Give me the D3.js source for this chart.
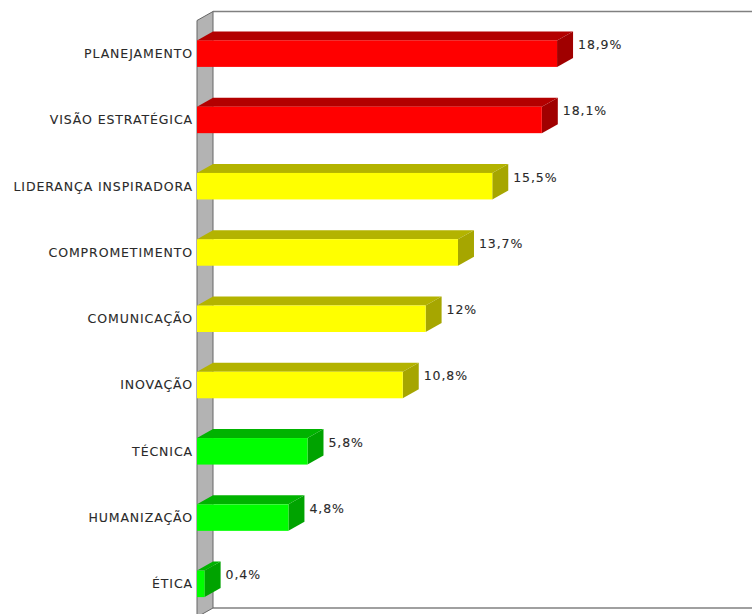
<!DOCTYPE html>
<html>
<head>
    <meta charset="UTF-8">
    <script type="text/javascript" src="https://cdn.jsdelivr.net/npm/d3@7"></script>
    <style>
        body { margin: 0; background: #fff; }
        text { font-family: "DejaVu Sans", sans-serif; fill: #2a2a2a; stroke: #2a2a2a; stroke-width: 0.1px;
               font-size: 12.5px; letter-spacing: 0.9px; }
    </style>
</head>
<body>
<script type="text/javascript">
    var categories = ["PLANEJAMENTO", "VISÃO ESTRATÉGICA", "LIDERANÇA INSPIRADORA", "COMPROMETIMENTO",
        "COMUNICAÇÃO", "INOVAÇÃO", "TÉCNICA", "HUMANIZAÇÃO", "ÉTICA"];
    var values = [18.9, 18.1, 15.5, 13.7, 12, 10.8, 5.8, 4.8, 0.4];
    var valueLabels = ["18,9%", "18,1%", "15,5%", "13,7%", "12%", "10,8%", "5,8%", "4,8%", "0,4%"];
    var levels = ["red", "red", "yellow", "yellow", "yellow", "yellow", "green", "green", "green"];

    var palette = {
        red: {front: "#ff0000", top: "#b30000", side: "#a00000"},
        yellow: {front: "#ffff00", top: "#b3b300", side: "#a6a600"},
        green: {front: "#00ff00", top: "#00b300", side: "#00a300"}
    };

    var width = 752, height = 614,
        x0 = 197, dx = 16, dy = -9;

    var svg = d3.select("body").append("svg")
        .attr("width", width)
        .attr("height", height);

    var x = d3.scaleLinear().domain([0, 30]).range([x0, x0 + 19.05 * 30]);
    var y = d3.scaleBand().domain(categories).range([20.5, 617]).paddingInner(0.6).paddingOuter(0.3);

    // back plane outline
    svg.append("path")
        .attr("d", "M" + (x0 + dx) + "," + (20.5 + dy) + "H" + width)
        .attr("stroke", "#808080").attr("stroke-width", 1.5).attr("fill", "none");
    svg.append("path")
        .attr("d", "M" + (x0 + dx) + "," + (617 + dy) + "H" + width)
        .attr("stroke", "#808080").attr("stroke-width", 1.5).attr("fill", "none");

    // left wall
    svg.append("path")
        .attr("d", "M" + x0 + "," + 20.5 + "L" + (x0 + dx) + "," + (20.5 + dy) +
            "L" + (x0 + dx) + "," + (617 + dy) + "L" + x0 + "," + 617 + "Z")
        .attr("fill", "#b3b3b3").attr("stroke", "#666").attr("stroke-width", 1);

    var bar = svg.selectAll(".bar")
        .data(categories)
        .enter().append("g")
        .attr("class", "bar");

    bar.each(function (c, i) {
        var g = d3.select(this),
            top = y(c), h = y.bandwidth(),
            xr = x(values[i]),
            col = palette[levels[i]];
        // top face
        g.append("path")
            .attr("d", "M" + x0 + "," + top + "L" + (x0 + dx) + "," + (top + dy) +
                "L" + (xr + dx) + "," + (top + dy) + "L" + xr + "," + top + "Z")
            .attr("fill", col.top);
        // side face
        g.append("path")
            .attr("d", "M" + xr + "," + top + "L" + (xr + dx) + "," + (top + dy) +
                "L" + (xr + dx) + "," + (top + h + dy) + "L" + xr + "," + (top + h) + "Z")
            .attr("fill", col.side);
        // front face
        g.append("rect")
            .attr("x", x0).attr("y", top)
            .attr("width", xr - x0).attr("height", h)
            .attr("fill", col.front);
        // value label
        g.append("text")
            .attr("x", xr + dx + 5)
            .attr("y", top + h / 2 + dy)
            .attr("dy", "0.35em")
            .text(valueLabels[i]);
        // category label
        g.append("text")
            .attr("x", 193)
            .attr("y", top + h / 2)
            .attr("dy", "0.35em")
            .attr("text-anchor", "end")
            .text(c);
    });
</script>
</body>
</html>
